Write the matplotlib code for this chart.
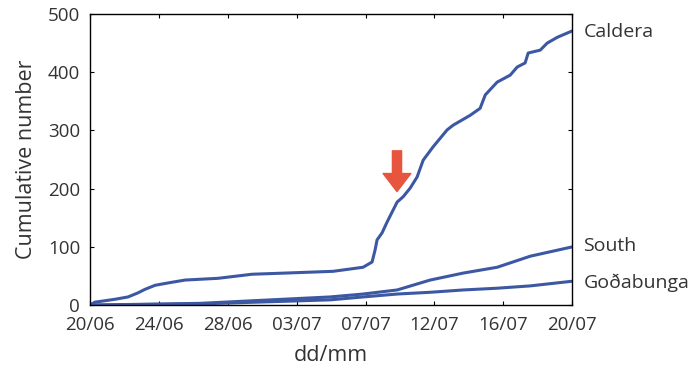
import numpy as np
from matplotlib import pyplot as plt

# days since 20/06 and cumulative counts
caldera_day = [0, 0.31, 1.56, 2.37, 2.99, 3.42, 4.05, 4.85, 5.91, 7.97, 10.08, 12.14,
               15.12, 16.99, 17.55, 17.74, 17.86, 18.17, 18.49, 19.11, 19.48, 19.92,
               20.35, 20.73, 21.35, 22.22, 22.59, 23.65, 24.27, 24.59, 25.33, 26.14,
               26.58, 27.07, 27.26, 28.01, 28.44, 29.07, 30]
caldera_num = [0, 5, 10, 14, 21, 27, 34, 38, 43, 46, 53, 55,
               58, 65, 74, 95, 112, 124, 143, 177, 186, 201,
               220, 249, 272, 301, 309, 326, 338, 361, 383, 395,
               409, 416, 433, 438, 450, 460, 471]

south_day = [0, 6.85, 14.94, 16.99, 19.11, 21.16, 23.22, 25.33, 27.39, 30]
south_num = [0, 3, 14, 19, 26, 43, 55, 65, 84, 100]

goda_day = [0, 6.85, 14.94, 16.99, 19.11, 21.16, 23.22, 25.33, 27.39, 30]
goda_num = [0, 2, 9, 14, 19, 22, 26, 29, 33, 41]

xtick_labels = ['20/06', '24/06', '28/06', '03/07', '07/07', '12/07', '16/07', '20/07']
ytick_values = [0, 100, 200, 300, 400, 500]

series_names = ['Caldera', 'South', 'Goðabunga']
name_y = [469, 101, 38]

arrow_day = 19.1
arrow_top, arrow_tip = 265, 195

line_color = '#3d58a3'
text_color = '#333333'

plt.rcParams['font.family'] = ['Open Sans', 'DejaVu Sans']

fig = plt.figure(figsize=(6.97, 3.79), dpi=100)
ax = fig.add_axes([0.129, 0.195, 0.692, 0.768])

for d, n in [(caldera_day, caldera_num), (south_day, south_num), (goda_day, goda_num)]:
    ax.plot(d, n, color=line_color, lw=2.2, solid_capstyle='round')

ax.set_xlim(0, 30)
ax.set_ylim(0, 500)
ax.set_xticks(np.linspace(0, 30, len(xtick_labels)))
ax.set_xticklabels(xtick_labels)
ax.set_yticks(ytick_values)
ax.tick_params(direction='in', length=3, width=0.8, top=True, right=True,
               labelsize=13.5, labelcolor=text_color)
ax.tick_params(axis='x', pad=8)
ax.tick_params(axis='y', pad=7)
for sp in ax.spines.values():
    sp.set_linewidth(1.0)

ax.set_xlabel('dd/mm', fontsize=15.5, color=text_color, labelpad=8)
ax.set_ylabel('Cumulative number', fontsize=15.5, color=text_color, labelpad=8)

for name, y in zip(series_names, name_y):
    ax.text(30.7, y, name, fontsize=14, color=text_color, va='center', ha='left',
            clip_on=False)

ax.annotate('', xy=(arrow_day, arrow_tip), xytext=(arrow_day, arrow_top),
            arrowprops=dict(arrowstyle='simple,head_length=0.65,head_width=1.0,tail_width=0.33',
                            color='#e8553f', mutation_scale=20, shrinkA=0, shrinkB=0))

plt.savefig('out.png', dpi=100)
